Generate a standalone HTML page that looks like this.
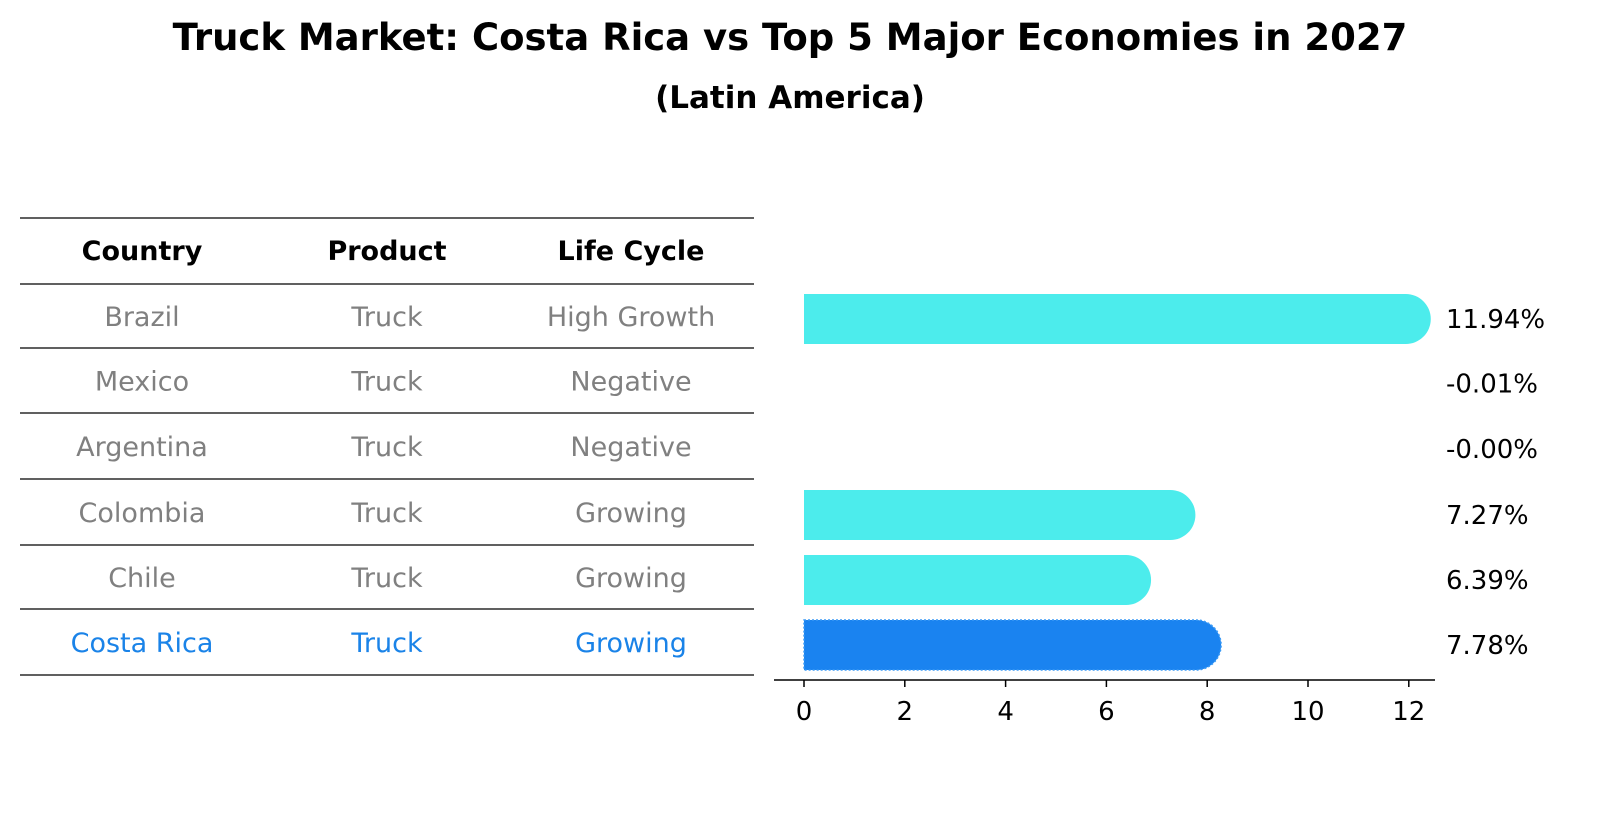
<!DOCTYPE html>
<html><head><meta charset="utf-8"><style>
body{margin:0;background:#fff;font-family:"Liberation Sans","DejaVu Sans",sans-serif;}
</style></head><body>
<svg width="1604" height="823" xmlns="http://www.w3.org/2000/svg" font-family="DejaVu Sans, Liberation Sans, sans-serif">
<text x="790" y="50" text-anchor="middle" font-size="37" font-weight="bold">Truck Market: Costa Rica vs Top 5 Major Economies in 2027</text>
<text x="790" y="108" text-anchor="middle" font-size="31" font-weight="bold">(Latin America)</text>
<g id="table"></g>
<g id="bars"></g>
</svg>
<script>
const countries=["Brazil","Mexico","Argentina","Colombia","Chile","Costa Rica"];
const products=["Truck","Truck","Truck","Truck","Truck","Truck"];
const lifeCycles=["High Growth","Negative","Negative","Growing","Growing","Growing"];
const growthValues=[11.94,-0.01,-0.00,7.27,6.39,7.78];
const valueLabels=["11.94%","-0.01%","-0.00%","7.27%","6.39%","7.78%"];
const xTicks=[0,2,4,6,8,10,12];
const NS="http://www.w3.org/2000/svg";
function mk(tag,attrs,parent){const e=document.createElementNS(NS,tag);for(const k in attrs)e.setAttribute(k,attrs[k]);parent.appendChild(e);return e;}
const tbl=document.getElementById('table');
const lineYs=[218,284,348,413,479,545,609,675];
lineYs.forEach((y,i)=>{const l=mk('line',{x1:20,x2:754,y1:y,y2:y,stroke:'#000','stroke-width':1.2},tbl);

});
const colX=[142,387,631];
["Country","Product","Life Cycle"].forEach((h,i)=>{const t=mk('text',{x:colX[i],y:260,'text-anchor':'middle','font-size':27,'font-weight':'bold'},tbl);t.textContent=h;

});
function rowY(i){return (lineYs[i+1]+lineYs[i+2])/2;}
countries.forEach((c,i)=>{const col=i===countries.length-1?'#1a83e8':'#808080';
[c,products[i],lifeCycles[i]].forEach((v,j)=>{const t=mk('text',{x:colX[j],y:rowY(i)+10,'text-anchor':'middle','font-size':27,fill:col},tbl);t.textContent=v;

});});
const bars=document.getElementById('bars');
const x0=804,unit=50.4;
function xs(v){return x0+v*unit;}
function ys(i){return rowY(i)+3;}
const bh=50,r=25;
growthValues.forEach((v,i)=>{
 if(v<=0.05){return;}
 const xe=xs(v),y=ys(i);
 const last=i===growthValues.length-1;
 const p=mk('path',{d:`M${x0},${y-bh/2} H${xe} A${r},${r} 0 0 1 ${xe},${y+bh/2} H${x0} Z`,fill:last?'#1a83f0':'#4cecec',stroke:last?'#3a9af5':'none','stroke-width':last?1.5:0,'stroke-dasharray':last?'2 2':'none'},bars);
 
 
});
growthValues.forEach((v,i)=>{const t=mk('text',{x:1446,y:ys(i)+9,'font-size':26},bars);t.textContent=valueLabels[i];

});
const ax=mk('line',{x1:774,x2:1435,y1:680,y2:680,stroke:'#000','stroke-width':1.5},bars);


xTicks.forEach(v=>{const l=mk('line',{x1:xs(v),x2:xs(v),y1:680,y2:687,stroke:'#000','stroke-width':1.5},bars);


const t=mk('text',{x:xs(v),y:720,'text-anchor':'middle','font-size':26},bars);t.textContent=v;

});
</script>
</body></html>
